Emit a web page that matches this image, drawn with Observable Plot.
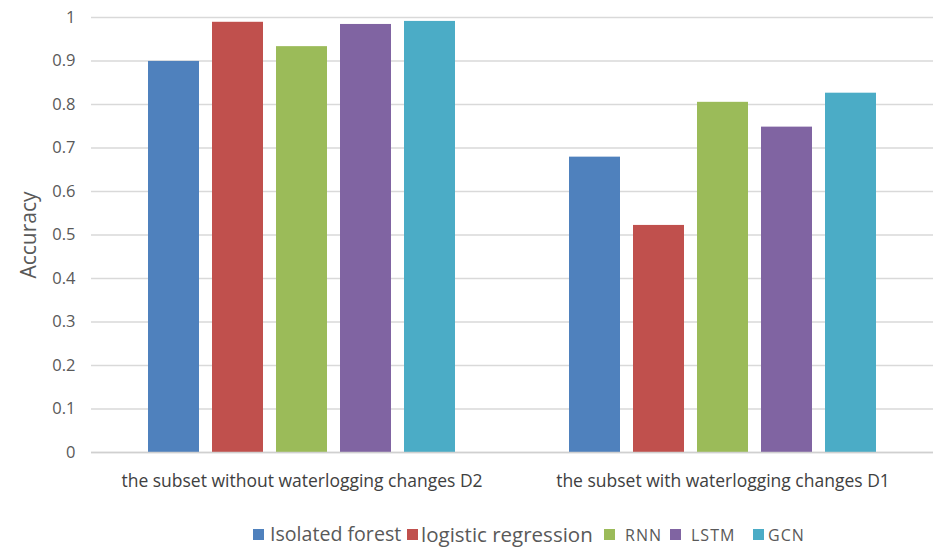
<!DOCTYPE html>
<html>
<head>
<meta charset="utf-8">
<script src="https://cdn.jsdelivr.net/npm/d3@7"></script>
<script src="https://cdn.jsdelivr.net/npm/@observablehq/plot@0.6"></script>
<style>
  body { margin: 0; background: #fff; font-family: "Open Sans", "Noto Sans", sans-serif; }
  #chart { width: 936px; height: 500px; }
  .legend { position: relative; height: 47px; width: 936px; overflow: hidden; }
  .legend .sw { position: absolute; top: 29px; width: 11px; height: 11px; }
  .legend .tx { position: absolute; color: #595959; white-space: nowrap; line-height: 1; }
</style>
</head>
<body>
<div id="chart"></div>
<script>
const groups = ["the subset without waterlogging changes D2", "the subset with waterlogging changes D1"];
const models = ["Isolated forest", "logistic regression", "RNN", "LSTM", "GCN"];
const colors = ["#4f81bd", "#c0504d", "#9bbb59", "#8064a2", "#4bacc6"];
const valuesD2 = [0.899, 0.989, 0.933, 0.984, 0.991];
const valuesD1 = [0.679, 0.522, 0.805, 0.748, 0.826];
const yTicks = [0, 0.1, 0.2, 0.3, 0.4, 0.5, 0.6, 0.7, 0.8, 0.9, 1];
const yTickLabels = ["0", "0.1", "0.2", "0.3", "0.4", "0.5", "0.6", "0.7", "0.8", "0.9", "1"];

const data = [];
models.forEach((m, i) => data.push({group: groups[0], model: m, value: valuesD2[i]}));
models.forEach((m, i) => data.push({group: groups[1], model: m, value: valuesD1[i]}));

const chart = Plot.plot({
  width: 936,
  height: 500,
  marginTop: 17,
  marginBottom: 48,
  marginLeft: 91,
  marginRight: 3,
  style: {fontFamily: "'Open Sans', 'Noto Sans', sans-serif", color: "#595959", background: "#fff"},
  fx: {domain: groups, padding: 0, label: null},
  x: {domain: models, paddingInner: 0.21, paddingOuter: 0.876, axis: null},
  y: {domain: [0, 1], label: null},
  color: {domain: models, range: colors},
  marks: [
    Plot.gridY(yTicks, {stroke: "#d9d9d9", strokeOpacity: 1, strokeWidth: 1.6}),
    Plot.barY(data, {fx: "group", x: "model", y: "value", fill: "model"}),
    Plot.ruleY([0], {stroke: "#d0d0d0", strokeWidth: 1.6}),
    Plot.axisY({ticks: yTicks, tickFormat: (d, i) => yTickLabels[i], tickSize: 0, tickPadding: 16, fontSize: 16.5, label: null, fill: "#595959"}),
    Plot.axisY({ticks: [], tickSize: 0, fontSize: 21, label: "Accuracy", labelAnchor: "center", labelArrow: "none", labelOffset: 70, fill: "#595959"}),
    Plot.axisFx({anchor: "bottom", tickSize: 0, tickPadding: 22, fontSize: 17.5, label: null, fill: "#404040"})
  ]
});
document.getElementById("chart").appendChild(chart);

// legend
const legend = document.createElement("div");
legend.className = "legend";
const swX = [253, 407, 604, 670, 753];
const txX = [270, 421, 625, 691, 768];
const fs = [19.6, 20.5, 16, 16, 16];
const ls = [0, 0, 1, 1, 1];
models.forEach((m, i) => {
  const sw = document.createElement("div");
  sw.className = "sw";
  sw.style.left = swX[i] + "px";
  sw.style.background = colors[i];
  legend.appendChild(sw);
  const tx = document.createElement("div");
  tx.className = "tx";
  tx.textContent = m;
  tx.style.left = txX[i] + "px";
  tx.style.fontSize = fs[i] + "px";
  tx.style.letterSpacing = ls[i] + "px";
  tx.style.top = (i < 2 ? 24 : 27) + "px";
  legend.appendChild(tx);
});
document.body.appendChild(legend);
</script>
</body>
</html>
